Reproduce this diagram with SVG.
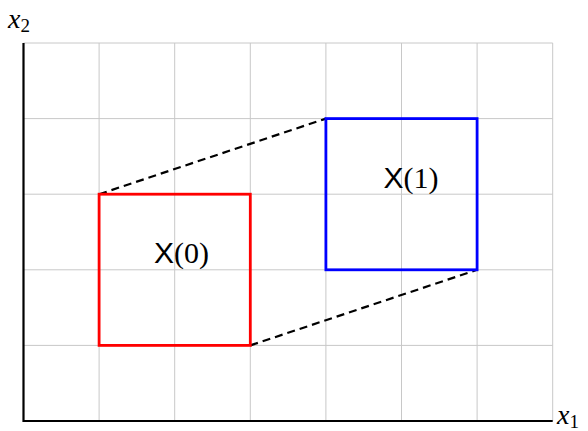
<svg xmlns="http://www.w3.org/2000/svg" width="588" height="431" viewBox="0 0 588 431">
<style>
.grid{stroke:#c8c8c8;stroke-width:1;fill:none}
.axis{stroke:#000;stroke-width:2.2;fill:none}
.dash{stroke:#000;stroke-width:2.2;stroke-dasharray:8,5;fill:none}
.box{fill:none;stroke-width:2.8}
.sf{font-family:"Liberation Serif","DejaVu Serif",serif}
.ss{font-family:"Liberation Sans",Arial,sans-serif}
</style>
<rect width="588" height="431" fill="#fff"/>
<g id="grid">
<path class="grid" d="M99.1 43V421M174.7 43V421M250.3 43V421M325.9 43V421M401.5 43V421M477.1 43V421M552.7 43V421M23.5 43H552.7M23.5 118.6H552.7M23.5 194.2H552.7M23.5 269.8H552.7M23.5 345.4H552.7"/>
</g>
<g id="axes">
<path class="axis" d="M23.5 43V421H552.7"/>
<text class="sf" x="8" y="28" font-size="28" font-style="italic">x<tspan font-size="19" font-style="normal" dy="4">2</tspan></text>
<text class="sf" x="557" y="424" font-size="28" font-style="italic">x<tspan font-size="19" font-style="normal" dy="4">1</tspan></text>
</g>
<g id="connectors">
<line class="dash" x1="99.1" y1="194.2" x2="325.9" y2="118.6"/>
<line class="dash" x1="250.3" y1="345.4" x2="477.1" y2="269.8"/>
</g>
<g id="box0">
<rect class="box" stroke="#ff0000" x="99.1" y="194.2" width="151.2" height="151.2"/>
<text x="154" y="263" font-size="30"><tspan class="ss">X</tspan><tspan class="sf">(0)</tspan></text>
</g>
<g id="box1">
<rect class="box" stroke="#0000ff" x="325.9" y="118.6" width="151.2" height="151.2"/>
<text x="383.5" y="188" font-size="30"><tspan class="ss">X</tspan><tspan class="sf">(1)</tspan></text>
</g>
</svg>
